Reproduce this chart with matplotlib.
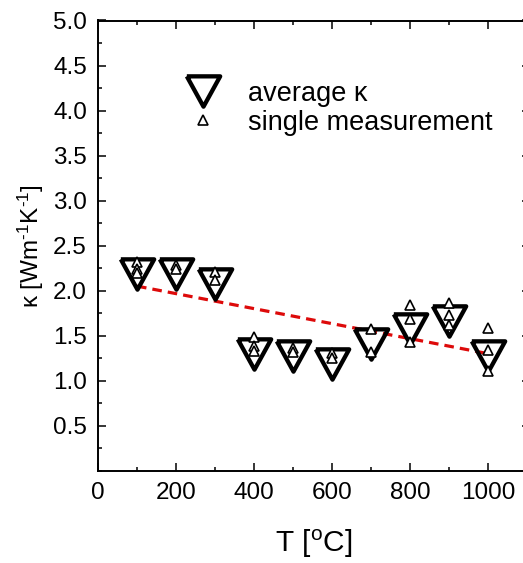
import matplotlib
matplotlib.use("Agg")
import matplotlib.pyplot as plt
from matplotlib.lines import Line2D
from matplotlib.ticker import MultipleLocator

plt.rcParams["font.family"] = ["Liberation Sans", "DejaVu Sans"]
plt.rcParams["mathtext.fontset"] = "custom"
plt.rcParams["mathtext.rm"] = "Liberation Sans"
plt.rcParams["mathtext.it"] = "Liberation Sans"

# average kappa per annealing temperature
temps = [100, 200, 300, 400, 500, 600, 700, 800, 900, 1000]
kappa_avg = [2.18, 2.18, 2.07, 1.30, 1.27, 1.18, 1.41, 1.57, 1.66, 1.27]

# single measurements
single_T = [100, 100, 100, 200, 200, 300, 300,
            400, 400, 400, 500, 500, 600, 600, 700, 700,
            800, 800, 800, 900, 900, 900, 1000, 1000, 1000]
single_k = [2.32, 2.24, 2.20, 2.28, 2.24, 2.21, 2.12,
            1.48, 1.39, 1.33, 1.36, 1.32, 1.31, 1.25, 1.57, 1.32,
            1.84, 1.69, 1.43, 1.86, 1.73, 1.62, 1.58, 1.34, 1.11]

# linear trend line
fit_T = [100, 1000]
fit_k = [2.05, 1.30]

# slightly wide down-triangle, like Origin's
big_tri = [(-1.1, 1.0), (1.1, 1.0), (0.0, -1.0), (-1.1, 1.0)]

W, H = 523, 563
fig = plt.figure(figsize=(W / 100, H / 100), dpi=100)
ax = fig.add_axes([98 / W, 92.3 / H, (530 - 98) / W, (470.7 - 20.5) / H])

big_style = dict(ls="none", marker=big_tri, ms=24, mew=3.1, mec="black", mfc="none")
small_style = dict(ls="none", marker="^", ms=7.5, mew=1.2, mec="black", mfc="white")

ax.plot(fit_T, fit_k, color="#dd0a0a", lw=2.3, dashes=(3.0, 1.9), zorder=2)
ax.plot(temps, kappa_avg, zorder=3, **big_style)
ax.plot(single_T, single_k, zorder=4, **small_style)

ax.set_xlim(0, 1100 * (530 - 98) / (527 - 98))
ax.set_ylim(0, 5)
ax.set_xticks([0, 200, 400, 600, 800, 1000])
ax.xaxis.set_minor_locator(MultipleLocator(100))
ax.set_yticks([0.5, 1.0, 1.5, 2.0, 2.5, 3.0, 3.5, 4.0, 4.5, 5.0])
ax.yaxis.set_minor_locator(MultipleLocator(0.25))
ax.tick_params(which="both", direction="in", top=True, right=True,
               width=1.1, labelsize=17.5, pad=8)
ax.tick_params(which="major", length=6)
ax.tick_params(which="minor", length=3)
for s in ax.spines.values():
    s.set_linewidth(1.4)

ax.set_xlabel(r"T [$^{\rm o}$C]", fontsize=21.5, labelpad=17)
ax.set_ylabel("\u03ba [Wm$^{\\rm \u2010 1}$K$^{\\rm \u2010 1}$]", fontsize=17.5, labelpad=5)

handles = [Line2D([], [], **big_style), Line2D([], [], **small_style)]
ax.legend(handles, ["average \u03ba", "single measurement"], loc="upper left",
          bbox_to_anchor=(0.1865 * (527 - 98) / (530 - 98), 0.866), frameon=False,
          fontsize=19.5, handlelength=1.85, handletextpad=0.75, labelspacing=0.1,
          borderpad=0, borderaxespad=0)

fig.savefig("out.png", dpi=100)
